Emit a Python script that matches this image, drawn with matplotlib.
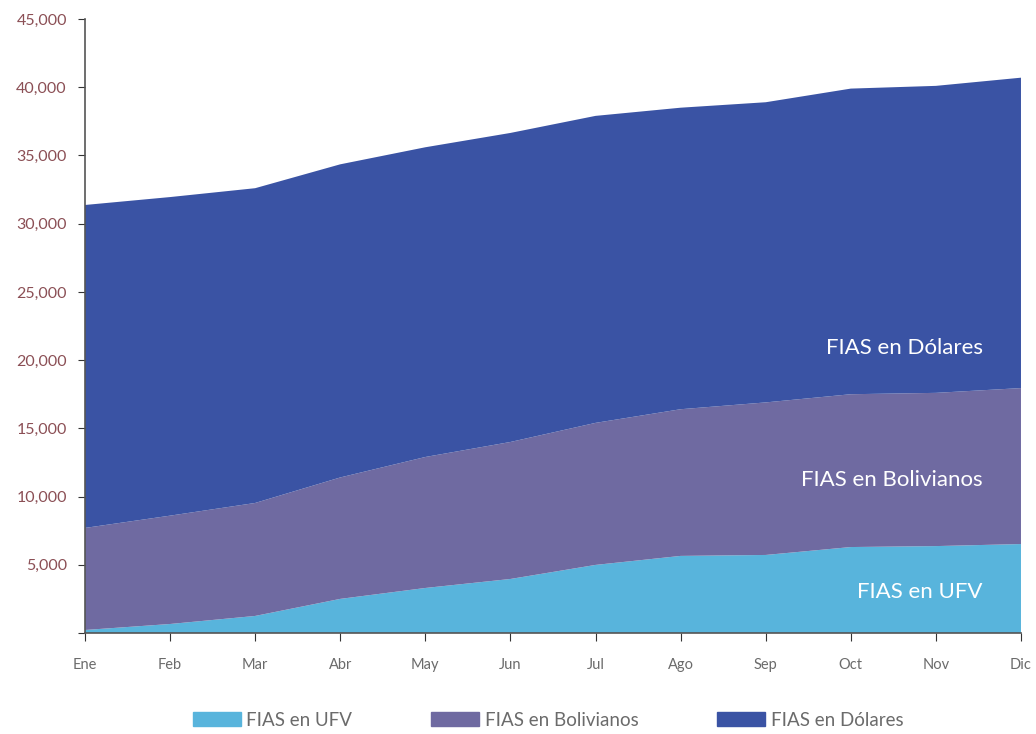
import numpy as np
import matplotlib
matplotlib.use("Agg")
import matplotlib.pyplot as plt
from matplotlib.ticker import FuncFormatter
from matplotlib.patches import Patch

plt.rcParams["font.family"] = ["Lato", "DejaVu Sans"]

meses = ["Ene", "Feb", "Mar", "Abr", "May", "Jun", "Jul", "Ago", "Sep", "Oct", "Nov", "Dic"]
# (cumulative levels, then split into series)
ufv = [220, 660, 1250, 2500, 3300, 3960, 4990, 5650, 5720, 6300, 6370, 6520]
tope_bol = [7700, 8600, 9530, 11400, 12900, 14000, 15400, 16400, 16900, 17500, 17600, 17950]
total = [31370, 31950, 32600, 34350, 35600, 36650, 37900, 38500, 38900, 39900, 40100, 40700]
bolivianos = [b - u for b, u in zip(tope_bol, ufv)]
dolares = [t - b for t, b in zip(total, tope_bol)]

nombres = ["FIAS en UFV", "FIAS en Bolivianos", "FIAS en Dólares"]
colores = ["#58B4DC", "#6F6AA1", "#3A53A4"]

fig = plt.figure(figsize=(10.36, 7.34), dpi=100)
ax = fig.add_axes([0.082, 0.1376, 0.9035, 0.8365])
x = np.arange(len(meses))
ax.stackplot(x, ufv, bolivianos, dolares, colors=colores, linewidth=0)

ax.set_xlim(0, len(meses) - 1)
ax.set_ylim(0, 45000)
ax.set_yticks(range(0, 45001, 5000))
ax.yaxis.set_major_formatter(FuncFormatter(lambda v, p: "" if v == 0 else f"{v:,.0f}"))
ax.set_xticks(x, meses)
ax.tick_params(axis="y", labelsize=11.5, labelcolor="#8B4F55", color="#333333", length=5, pad=8)
ax.tick_params(axis="x", labelsize=10.5, labelcolor="#6B6B6B", color="#333333", length=6, pad=12)
for s in ["top", "right"]:
    ax.spines[s].set_visible(False)
for s in ["left", "bottom"]:
    ax.spines[s].set_color("#555555")
    ax.spines[s].set_linewidth(1.2)

etiquetas_y = [0.067, 0.249, 0.464]
for nombre, yy in zip(nombres, etiquetas_y):
    ax.text(0.959, yy, nombre, transform=ax.transAxes, ha="right", va="center",
            color="white", fontsize=16)

handles = [Patch(color=c, label=n) for c, n in zip(colores, nombres)]
fig.legend(handles=handles, loc="center", bbox_to_anchor=(0.529, 0.019), ncol=3,
           frameon=False, fontsize=13.5, handlelength=2.55, handleheight=0.75,
           columnspacing=4.2, handletextpad=0.3, labelcolor="#6B6B6B")

fig.savefig("out.png", dpi=100)
